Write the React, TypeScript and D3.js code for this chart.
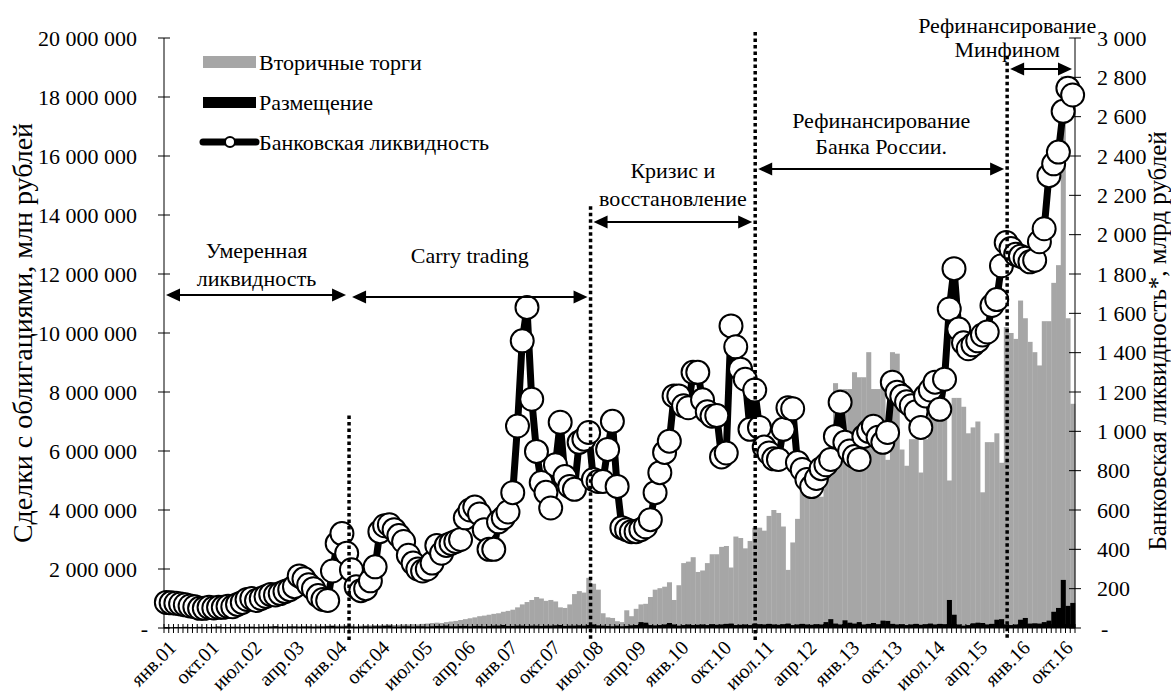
import React, { useEffect, useRef } from 'react';
import * as d3 from 'd3';

// Months Jan 2001 - Dec 2016
const MONTH_NAMES = ['янв', 'фев', 'мар', 'апр', 'май', 'июн', 'июл', 'авг', 'сен', 'окт', 'ноя', 'дек'];
const YEARS = ['01', '02', '03', '04', '05', '06', '07', '08', '09', '10', '11', '12', '13', '14', '15', '16'];
const MONTHS = YEARS.flatMap(y => MONTH_NAMES.map(m => `${m}.${y}`));

const TICK_LABELS = [
  'янв.01', 'окт.01', 'июл.02', 'апр.03', 'янв.04', 'окт.04', 'июл.05', 'апр.06',
  'янв.07', 'окт.07', 'июл.08', 'апр.09', 'янв.10', 'окт.10', 'июл.11', 'апр.12',
  'янв.13', 'окт.13', 'июл.14', 'апр.15', 'янв.16', 'окт.16'
];

// Вторичные торги, млн рублей (values in millions)
const SECONDARY = [
  0.02, 0.02, 0.02, 0.03, 0.02, 0.03, 0.03, 0.02, 0.03, 0.03, 0.03, 0.04,
  0.03, 0.03, 0.04, 0.04, 0.04, 0.04, 0.05, 0.04, 0.05, 0.05, 0.05, 0.06,
  0.05, 0.05, 0.06, 0.06, 0.07, 0.06, 0.07, 0.07, 0.08, 0.07, 0.08, 0.09,
  0.08, 0.08, 0.09, 0.08, 0.07, 0.08, 0.09, 0.09, 0.10, 0.10, 0.11, 0.12,
  0.10, 0.11, 0.12, 0.12, 0.13, 0.12, 0.14, 0.15, 0.17, 0.18, 0.17, 0.20,
  0.22, 0.24, 0.27, 0.30, 0.33, 0.36, 0.40, 0.42, 0.45, 0.48, 0.50, 0.55,
  0.58, 0.62, 0.70, 0.80, 0.88, 0.95, 1.05, 1.00, 0.92, 0.95, 0.90, 0.70,
  0.68, 0.80, 1.15, 1.25, 1.20, 1.70, 1.50, 1.30, 0.50, 0.36, 0.34, 0.23,
  0.20, 0.60, 0.40, 0.65, 0.80, 0.82, 1.05, 1.30, 1.35, 1.40, 1.55, 0.95,
  1.45, 2.20, 2.25, 2.40, 1.90, 1.95, 2.20, 2.50, 2.50, 2.75, 2.78, 2.05,
  3.10, 3.05, 2.70, 2.95, 3.40, 3.40, 3.30, 3.80, 4.00, 3.90, 3.44, 1.97,
  2.90, 3.70, 4.70, 4.70, 4.65, 4.60, 4.45, 5.10, 5.20, 8.30, 8.10, 8.10,
  8.10, 8.67, 8.50, 8.50, 9.35, 8.10, 8.10, 8.50, 5.70, 9.35, 9.30, 6.05,
  5.50, 6.40, 6.40, 5.27, 6.40, 7.30, 7.30, 7.50, 7.30, 5.00, 7.80, 7.80,
  7.50, 6.60, 6.80, 7.00, 4.60, 6.30, 6.30, 6.60, 5.60, 10.20, 10.00, 9.80,
  11.10, 10.50, 9.70, 9.35, 8.90, 10.40, 10.40, 11.70, 12.30, 18.70, 10.50, 7.60
];

// Размещение, млн рублей (values in millions)
const PLACEMENT = [
  0.03, 0.02, 0.03, 0.03, 0.04, 0.03, 0.03, 0.04, 0.03, 0.03, 0.04, 0.05,
  0.03, 0.03, 0.04, 0.04, 0.03, 0.04, 0.04, 0.03, 0.04, 0.04, 0.05, 0.06,
  0.04, 0.04, 0.05, 0.05, 0.04, 0.05, 0.05, 0.04, 0.05, 0.05, 0.06, 0.07,
  0.05, 0.05, 0.06, 0.05, 0.04, 0.05, 0.06, 0.05, 0.06, 0.06, 0.07, 0.08,
  0.05, 0.05, 0.06, 0.06, 0.05, 0.06, 0.06, 0.05, 0.06, 0.07, 0.07, 0.08,
  0.06, 0.06, 0.07, 0.07, 0.06, 0.07, 0.07, 0.06, 0.07, 0.08, 0.08, 0.10,
  0.07, 0.07, 0.08, 0.08, 0.07, 0.08, 0.08, 0.07, 0.08, 0.08, 0.09, 0.10,
  0.07, 0.08, 0.08, 0.09, 0.08, 0.10, 0.12, 0.09, 0.08, 0.07, 0.06, 0.08,
  0.06, 0.07, 0.09, 0.10, 0.20, 0.18, 0.10, 0.09, 0.10, 0.12, 0.17, 0.12,
  0.08, 0.10, 0.12, 0.10, 0.11, 0.12, 0.10, 0.13, 0.11, 0.12, 0.14, 0.15,
  0.10, 0.11, 0.12, 0.10, 0.15, 0.13, 0.12, 0.14, 0.12, 0.11, 0.13, 0.15,
  0.10, 0.12, 0.14, 0.12, 0.11, 0.13, 0.12, 0.20, 0.30, 0.15, 0.12, 0.26,
  0.18, 0.15, 0.20, 0.12, 0.14, 0.17, 0.13, 0.25, 0.24, 0.14, 0.12, 0.13,
  0.10, 0.12, 0.14, 0.11, 0.13, 0.15, 0.12, 0.14, 0.13, 0.95, 0.45, 0.12,
  0.08, 0.10, 0.16, 0.18, 0.17, 0.12, 0.14, 0.28, 0.30, 0.12, 0.10, 0.12,
  0.28, 0.34, 0.15, 0.16, 0.15, 0.20, 0.25, 0.55, 0.68, 1.63, 0.75, 0.85
];

// Банковская ликвидность, млрд рублей
const LIQUIDITY = [
  130, 128, 126, 122, 118, 112, 108, 100, 100, 105, 102, 105,
  105, 110, 108, 120, 130, 145, 150, 140, 150, 160, 170, 168,
  175, 185, 195, 210, 265, 250, 220, 200, 165, 145, 140, 290,
  430, 480, 380, 296, 210, 190, 200, 240, 311, 490, 520, 525,
  500, 470, 440, 370, 330, 300, 290, 300, 330, 420, 380, 420,
  430, 440, 450, 560, 600, 615, 580, 500, 400, 400, 540, 560,
  590, 688, 1027, 1460, 1630, 1163, 898, 740, 690, 610, 830, 1046,
  770, 720, 705, 944, 960, 994, 755, 745, 745, 908, 1051, 720,
  510, 500, 490, 490, 500, 515, 551, 688, 790, 893, 950, 1180,
  1180, 1130, 1120, 1300, 1300, 1160, 1100, 1077, 1080, 870, 890, 1536,
  1430, 1316, 1265, 1010, 1210, 1020, 920, 890, 860, 857, 1010, 1120,
  1115, 841, 806, 755, 719, 760, 810, 830, 857, 974, 1148, 944,
  900, 872, 857, 974, 1000, 1026, 970, 944, 994, 1250, 1199, 1178,
  1150, 1130, 1100, 1020, 1180, 1210, 1250, 1112, 1265, 1622, 1827, 1520,
  1450, 1420, 1440, 1460, 1490, 1505, 1640, 1670, 1842, 1960, 1930, 1900,
  1890, 1880, 1862, 1870, 1964, 2030, 2300, 2360, 2420, 2627, 2745, 2710
];

const LEFT_TICKS = [0, 2, 4, 6, 8, 10, 12, 14, 16, 18, 20];
const RIGHT_TICKS = [0, 200, 400, 600, 800, 1000, 1200, 1400, 1600, 1800, 2000, 2200, 2400, 2600, 2800, 3000];

// period boundaries (in months from Jan 2001) and top of the dotted dividers (left axis, mln)
const DIVIDERS = [
  { at: 39, top: 7.2 },
  { at: 89.9, top: 14.3 },
  { at: 124.6, top: 20.2 },
  { at: 177.7, top: 19.4 }
];

// period annotations: text lines and arrow level, all in left-axis units (mln)
const PERIODS = [
  { from: 0, to: 39, lines: ['Умеренная', 'ликвидность'], textY: [12.8, 11.86], arrowY: 11.29, cx: null },
  { from: 39, to: 89.9, lines: ['Carry trading'], textY: [12.64], arrowY: 11.22, cx: null },
  { from: 89.9, to: 124.6, lines: ['Кризис и', 'восстановление'], textY: [15.53, 14.58], arrowY: 13.76, cx: null },
  { from: 124.6, to: 177.7, lines: ['Рефинансирование', 'Банка России.'], textY: [17.22, 16.34], arrowY: 15.56, cx: null },
  { from: 177.7, to: 192, lines: ['Рефинансирование', 'Минфином'], textY: [20.44, 19.63], arrowY: 18.95, cx: 177.7 }
];

const FONT = "'Liberation Serif', 'Times New Roman', serif";
const WIDTH = 1171;
const HEIGHT = 698;

const fmtLeft = (v: number) => (v === 0 ? '-' : d3.format(',')(v * 1e6).replace(/,/g, ' '));
const fmtRight = (v: number) => (v === 0 ? '-' : d3.format(',')(v).replace(/,/g, ' '));

const App: React.FC = () => {
  const svgRef = useRef<SVGSVGElement>(null);

  useEffect(() => {
    if (!svgRef.current) return;
    const svg = d3.select(svgRef.current);
    svg.selectAll('*').remove();

    const margin = { top: 38, right: 96, bottom: 70, left: 164 };
    const x0 = margin.left;
    const x1 = WIDTH - margin.right;
    const yTop = margin.top;
    const yBot = HEIGHT - margin.bottom;

    const x = d3.scaleBand().domain(MONTHS).range([x0, x1]).padding(0);
    const xm = d3.scaleLinear().domain([0, MONTHS.length]).range([x0, x1]);
    const yL = d3.scaleLinear().domain([0, 20]).range([yBot, yTop]);
    const yR = d3.scaleLinear().domain([0, 3000]).range([yBot, yTop]);
    const cx = (i: number) => (x(MONTHS[i]) || 0) + x.bandwidth() / 2;

    svg.style('font-family', FONT);

    // Bars: secondary trading
    svg.append('g')
      .selectAll('rect')
      .data(SECONDARY)
      .join('rect')
      .attr('x', (d, i) => x(MONTHS[i]) || 0)
      .attr('y', d => yL(d))
      .attr('width', x.bandwidth() + 0.3)
      .attr('height', d => yBot - yL(d))
      .attr('fill', '#a6a6a6');

    // Bars: placement
    svg.append('g')
      .selectAll('rect')
      .data(PLACEMENT)
      .join('rect')
      .attr('x', (d, i) => x(MONTHS[i]) || 0)
      .attr('y', d => yL(d))
      .attr('width', x.bandwidth() + 0.3)
      .attr('height', d => yBot - yL(d))
      .attr('fill', '#000');

    // Axes lines
    const axes = svg.append('g').attr('stroke', '#000').attr('stroke-width', 1);
    axes.append('line').attr('x1', x0).attr('x2', x0).attr('y1', yTop).attr('y2', yBot);
    axes.append('line').attr('x1', x1).attr('x2', x1).attr('y1', yTop).attr('y2', yBot);
    axes.append('line').attr('x1', x0).attr('x2', x1).attr('y1', yBot).attr('y2', yBot);

    // month tick marks
    axes.selectAll('.xt')
      .data(d3.range(MONTHS.length + 1))
      .join('line')
      .attr('x1', d => xm(d)).attr('x2', d => xm(d))
      .attr('y1', yBot - 4).attr('y2', yBot + 5);

    // left ticks
    axes.selectAll('.lt')
      .data(LEFT_TICKS)
      .join('line')
      .attr('x1', x0 - 6).attr('x2', x0 + 6)
      .attr('y1', d => yL(d)).attr('y2', d => yL(d));
    // right ticks
    axes.selectAll('.rt')
      .data(RIGHT_TICKS)
      .join('line')
      .attr('x1', x1 - 6).attr('x2', x1 + 6)
      .attr('y1', d => yR(d)).attr('y2', d => yR(d));

    svg.append('g')
      .selectAll('text')
      .data(LEFT_TICKS)
      .join('text')
      .attr('x', d => (d === 0 ? x0 - 16 : x0 - 27))
      .attr('y', d => yL(d))
      .attr('dy', '0.35em')
      .attr('text-anchor', 'end')
      .style('font-size', '22px')
      .text(fmtLeft);

    svg.append('g')
      .selectAll('text')
      .data(RIGHT_TICKS)
      .join('text')
      .attr('x', d => (d === 0 ? x1 + 26 : x1 + 22))
      .attr('y', d => yR(d))
      .attr('dy', '0.35em')
      .attr('text-anchor', 'start')
      .style('font-size', '22px')
      .text(fmtRight);

    // x labels
    svg.append('g')
      .selectAll('text')
      .data(TICK_LABELS)
      .join('text')
      .attr('transform', d => `translate(${cx(MONTHS.indexOf(d)) + 6},${yBot + 16}) rotate(-45)`)
      .attr('dy', '0.35em')
      .attr('text-anchor', 'end')
      .style('font-size', '20px')
      .text(d => d);

    // Axis titles
    svg.append('text')
      .attr('transform', `translate(22,${(yTop + yBot) / 2}) rotate(-90)`)
      .attr('text-anchor', 'middle')
      .attr('dy', '0.35em')
      .style('font-size', '28px')
      .text('Сделки с облигациями, млн рублей');

    svg.append('text')
      .attr('transform', `translate(1157,${(yTop + yBot) / 2 + 8}) rotate(-90)`)
      .attr('text-anchor', 'middle')
      .attr('dy', '0.35em')
      .style('font-size', '25px')
      .text('Банковская ликвидность*, млрд рублей');

    // Liquidity line
    const line = d3.line<number>()
      .x((d, i) => cx(i))
      .y(d => yR(d));

    svg.append('path')
      .datum(LIQUIDITY)
      .attr('d', line)
      .attr('fill', 'none')
      .attr('stroke', '#000')
      .attr('stroke-width', 7)
      .attr('stroke-linejoin', 'round');

    svg.append('g')
      .selectAll('circle')
      .data(LIQUIDITY)
      .join('circle')
      .attr('cx', (d, i) => cx(i))
      .attr('cy', d => yR(d))
      .attr('r', 11.5)
      .attr('fill', '#fff')
      .attr('stroke', '#000')
      .attr('stroke-width', 2);

    // Dotted dividers
    svg.append('g')
      .selectAll('line')
      .data(DIVIDERS)
      .join('line')
      .attr('x1', d => xm(d.at)).attr('x2', d => xm(d.at))
      .attr('y1', d => yL(d.top)).attr('y2', yBot + 12)
      .attr('stroke', '#000')
      .attr('stroke-width', 3.5)
      .attr('stroke-dasharray', '3.5,3');

    // Period annotations
    const ann = svg.append('g');
    PERIODS.forEach(p => {
      const left = xm(p.from) + (p.from === 0 ? 2 : 3);
      const right = xm(p.to) - 3;
      const ay = yL(p.arrowY);
      const head = 14;
      const hw = 6.5;
      ann.append('line')
        .attr('x1', left + head - 2).attr('x2', right - head + 2)
        .attr('y1', ay).attr('y2', ay)
        .attr('stroke', '#000').attr('stroke-width', 2);
      ann.append('path')
        .attr('d', `M${left},${ay}L${left + head},${ay - hw}L${left + head},${ay + hw}Z`)
        .attr('fill', '#000');
      ann.append('path')
        .attr('d', `M${right},${ay}L${right - head},${ay - hw}L${right - head},${ay + hw}Z`)
        .attr('fill', '#000');
      const tx = xm(p.cx !== null ? p.cx : (p.from + p.to) / 2);
      p.lines.forEach((t, k) => {
        ann.append('text')
          .attr('x', tx)
          .attr('y', yL(p.textY[k]))
          .attr('dy', '0.35em')
          .attr('text-anchor', 'middle')
          .style('font-size', '22px')
          .text(t);
      });
    });

    // Legend
    const lg = svg.append('g');
    lg.append('rect').attr('x', 203).attr('y', 56).attr('width', 53).attr('height', 12).attr('fill', '#a6a6a6');
    lg.append('rect').attr('x', 203).attr('y', 97).attr('width', 53).attr('height', 11).attr('fill', '#000');
    lg.append('line').attr('x1', 203).attr('x2', 256).attr('y1', 142).attr('y2', 142)
      .attr('stroke', '#000').attr('stroke-width', 7).attr('stroke-linecap', 'round');
    lg.append('circle').attr('cx', 230).attr('cy', 142).attr('r', 5)
      .attr('fill', '#fff').attr('stroke', '#000').attr('stroke-width', 2);
    const legendText = ['Вторичные торги', 'Размещение', 'Банковская ликвидность'];
    const legendY = [62, 102, 142];
    legendText.forEach((t, k) => {
      lg.append('text')
        .attr('x', 259).attr('y', legendY[k]).attr('dy', '0.35em')
        .style('font-size', '22px')
        .text(t);
    });
  }, []);

  return (
    <div style={{ position: 'absolute', left: 0, top: 0, width: WIDTH, height: HEIGHT, background: '#fff' }}>
      <svg ref={svgRef} width={WIDTH} height={HEIGHT} style={{ display: 'block' }} />
    </div>
  );
};

export default App;
